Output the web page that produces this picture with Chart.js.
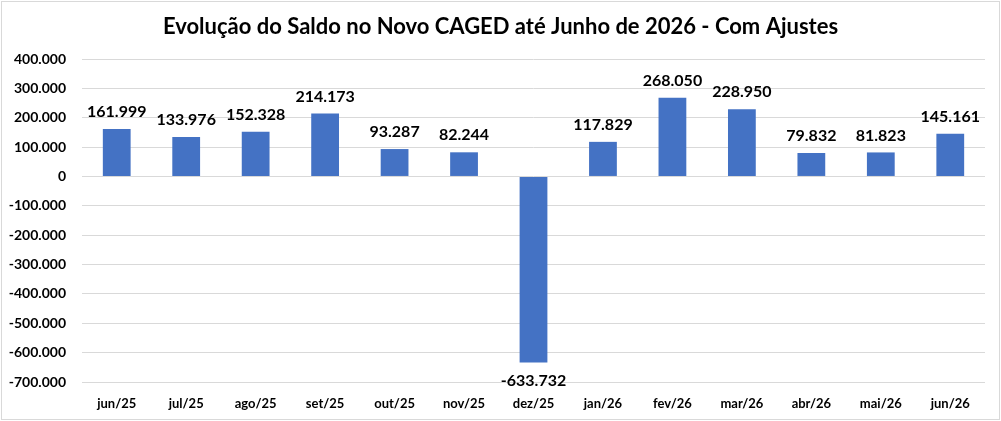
<!DOCTYPE html>
<html>
<head>
<meta charset="utf-8">
<script src="https://cdn.jsdelivr.net/npm/chart.js@4/dist/chart.umd.min.js"></script>
<style>
html,body{margin:0;padding:0;background:#fff;}
#wrap{width:1001px;height:421px;position:relative;}
</style>
</head>
<body>
<div id="wrap"><canvas id="c" width="1001" height="421"></canvas></div>
<script>
const titleText = 'Evolução do Saldo no Novo CAGED até Junho de 2026 - Com Ajustes';
const categories = ['jun/25','jul/25','ago/25','set/25','out/25','nov/25','dez/25','jan/26','fev/26','mar/26','abr/26','mai/26','jun/26'];
const saldo = [161999,133976,152328,214173,93287,82244,-633732,117829,268050,228950,79832,81823,145161];
const yMin = -700000, yMax = 400000, yStep = 100000;

function fmt(v){
  const neg = v < 0;
  const s = String(Math.abs(Math.round(v))).replace(/\B(?=(\d{3})+(?!\d))/g, '.');
  return (neg ? '-' : '') + s;
}
const FONT = 'Lato, "Open Sans", sans-serif';

const decor = {
  id: 'decor',
  afterDraw(chart){
    const ctx = chart.ctx;
    ctx.save();
    ctx.strokeStyle = '#d9d9d9';
    ctx.lineWidth = 1;
    ctx.strokeRect(1.5, 1.5, chart.width - 3, chart.height - 3);
    ctx.fillStyle = '#000';
    ctx.font = 'bold 22px ' + FONT;
    ctx.textAlign = 'center';
    ctx.textBaseline = 'middle';
    ctx.fillText(titleText, chart.width / 2, 27);
    const meta = chart.getDatasetMeta(0);
    ctx.font = 'bold 16px ' + FONT;
    ctx.textBaseline = 'middle';
    meta.data.forEach((bar, i) => {
      const v = chart.data.datasets[0].data[i];
      if (v >= 0) {
        ctx.fillText(fmt(v), bar.x, bar.y - 17);
      } else {
        ctx.fillText(fmt(v), bar.x, bar.y + 18);
      }
    });
    ctx.restore();
  }
};

new Chart(document.getElementById('c'), {
  type: 'bar',
  data: {
    labels: categories,
    datasets: [{
      data: saldo,
      backgroundColor: '#4472C4',
      borderWidth: 0,
      barPercentage: 0.8,
      categoryPercentage: 0.5
    }]
  },
  options: {
    responsive: false,
    animation: false,
    devicePixelRatio: 1,
    layout: { padding: { top: 59, left: 6, right: 16, bottom: 9 } },
    plugins: { legend: { display: false }, title: { display: false }, tooltip: { enabled: false } },
    scales: {
      x: {
        grid: { display: false, drawTicks: false, tickLength: 0 },
        border: { display: false },
        ticks: { color: '#000', font: { family: FONT, size: 13, weight: 'bold' }, padding: 14, maxRotation: 0 },
        afterFit(s){ s.height = 30; }
      },
      y: {
        min: yMin, max: yMax,
        grid: { color: '#d9d9d9', drawTicks: false },
        border: { display: false },
        ticks: { stepSize: yStep, color: '#000', font: { family: FONT, size: 14, weight: 'bold' }, padding: 16, callback: v => fmt(v) },
        afterFit(s){ s.width = 76; }
      }
    }
  },
  plugins: [decor]
});
</script>
</body>
</html>
